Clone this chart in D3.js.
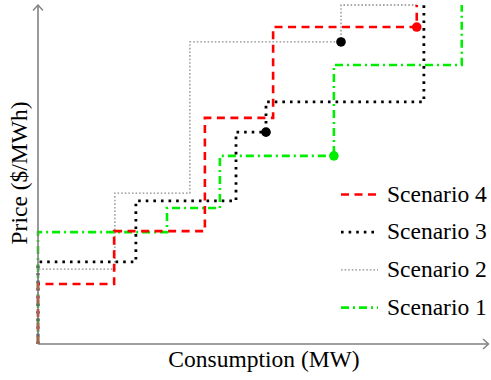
<!DOCTYPE html>
<html>
<head>
<meta charset="utf-8">
<script src="https://cdn.jsdelivr.net/npm/d3@7"></script>
<style>
  body { margin: 0; background: #fff; }
  text { font-family: "Liberation Serif", serif; }
</style>
</head>
<body>
<div id="chart"></div>
<script>
var vWidth = 491;
var vHeight = 380;

// step offers: consumption where each step ends, and its price
var s4Qty = [0, 20.3, 44.5, 62.7, 101, 101];
var s4Price = [0, 17.7, 33.3, 66.7, 93.5, 100];
var s3Qty = [0, 26.1, 52.8, 60.8, 102.9, 102.9];
var s3Price = [0, 24.2, 42.2, 62.5, 71.4, 100];
var s2Qty = [0, 20.5, 40.5, 80.8, 101];
var s2Price = [0, 22.1, 44.5, 89.1, 100];
var s1Qty = [0, 34.4, 48.5, 78.9, 113, 113];
var s1Price = [0, 33, 40.1, 55.5, 82.3, 100];

var names = ["Scenario 4", "Scenario 3", "Scenario 2", "Scenario 1"];
var colors = ["#ff0000", "#000000", "#8c8c8c", "#00ee00"];

// highlighted points
var dotQty = [101, 80.8, 60.8, 78.9];
var dotPrice = [93.5, 89.1, 62.5, 55.5];
var dotColor = ["#ff0000", "#000000", "#000000", "#00ee00"];

var styles = [
  {w: 2.6, dash: "8,5.5"},
  {w: 2.8, dash: "2.6,5"},
  {w: 1.3, dash: "1.6,2"},
  {w: 2.6, dash: "8,4,2,4"}
];

var series = [
  d3.zip(s4Qty, s4Price),
  d3.zip(s3Qty, s3Price),
  d3.zip(s2Qty, s2Price),
  d3.zip(s1Qty, s1Price)
];

var x = d3.scaleLinear().domain([0, 120]).range([38, 488]);
var y = d3.scaleLinear().domain([0, 100]).range([344, 5]);

var svg = d3.select("#chart")
    .append("svg")
    .attr("width", vWidth)
    .attr("height", vHeight);

var line = d3.line()
    .x(d => x(d[0]))
    .y(d => y(d[1]))
    .curve(d3.curveStepBefore);

// draw in reverse so scenario 4 ends up on top
var order = [3, 2, 1, 0];
order.forEach(function(i) {
  svg.append("path")
    .attr("d", line(series[i]))
    .attr("fill", "none")
    .attr("stroke", colors[i])
    .attr("stroke-width", styles[i].w)
    .attr("stroke-dasharray", styles[i].dash);
});

// axes
var axisColor = "#808080";
svg.append("line")
  .attr("x1", x(0)).attr("y1", y(0))
  .attr("x2", 488).attr("y2", y(0))
  .attr("stroke", axisColor).attr("stroke-width", 1.6);
svg.append("line")
  .attr("x1", x(0)).attr("y1", y(0))
  .attr("x2", x(0)).attr("y2", 5)
  .attr("stroke", axisColor).attr("stroke-width", 1.6);
svg.append("path")
  .attr("d", "M483,339 L488.5,344 L483,349")
  .attr("fill", "none").attr("stroke", axisColor).attr("stroke-width", 1.4);
svg.append("path")
  .attr("d", "M33,10.5 L38,5 L43,10.5")
  .attr("fill", "none").attr("stroke", axisColor).attr("stroke-width", 1.4);

// dots
svg.selectAll("circle.dot")
  .data(d3.range(dotQty.length))
  .enter().append("circle")
  .attr("class", "dot")
  .attr("cx", i => x(dotQty[i]))
  .attr("cy", i => y(dotPrice[i]))
  .attr("r", 4.8)
  .attr("fill", i => dotColor[i]);

// legend
var legend = svg.selectAll("g.legend")
  .data(names)
  .enter().append("g")
  .attr("class", "legend")
  .attr("transform", (d, i) => `translate(341, ${194.5 + i * 37.7})`);

legend.append("line")
  .attr("x1", 0).attr("x2", 37)
  .attr("y1", 0).attr("y2", 0)
  .attr("stroke", (d, i) => colors[i])
  .attr("stroke-width", (d, i) => styles[i].w)
  .attr("stroke-dasharray", (d, i) => styles[i].dash);

legend.append("text")
  .attr("x", 46)
  .attr("y", 7)
  .attr("font-size", 23.5)
  .attr("fill", "#000")
  .text(d => d);

// axis labels
svg.append("text")
  .attr("x", 264).attr("y", 367)
  .attr("text-anchor", "middle")
  .attr("font-size", 23.5)
  .attr("fill", "#000")
  .text("Consumption (MW)");

svg.append("text")
  .attr("transform", "translate(27,173) rotate(-90)")
  .attr("text-anchor", "middle")
  .attr("font-size", 23.5)
  .attr("fill", "#000")
  .text("Price ($/MWh)");
</script>
</body>
</html>
